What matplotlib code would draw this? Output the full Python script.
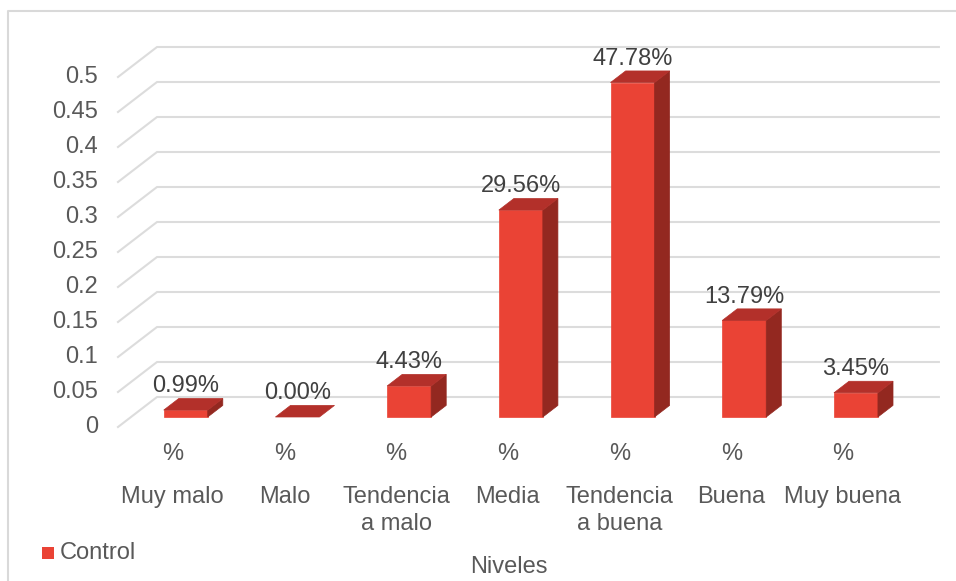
import matplotlib
matplotlib.use("Agg")
import matplotlib.pyplot as plt
from matplotlib.patches import Polygon
from matplotlib.lines import Line2D

# ---- data ----
categories = ["Muy malo", "Malo", "Tendencia\na malo", "Media",
              "Tendencia\na buena", "Buena", "Muy buena"]
values = [0.0099, 0.0000, 0.0443, 0.2956, 0.4778, 0.1379, 0.0345]
value_labels = ["0.99%", "0.00%", "4.43%", "29.56%", "47.78%", "13.79%", "3.45%"]
sub_labels = ["%", "%", "%", "%", "%", "%", "%"]
yticks = [0, 0.05, 0.1, 0.15, 0.2, 0.25, 0.3, 0.35, 0.4, 0.45, 0.5]
ytick_labels = ["0", "0.05", "0.1", "0.15", "0.2", "0.25", "0.3", "0.35", "0.4", "0.45", "0.5"]
series_name = "Control"
axis_title = "Niveles"

plt.rcParams['font.family'] = ['Liberation Sans', 'DejaVu Sans']

W, H = 956, 581
fig = plt.figure(figsize=(W / 100, H / 100), dpi=100)
ax = fig.add_axes([0, 0, 1, 1])
ax.set_axis_off()

CAT_PX = 111.7      # pixels per category
VAL_PX = 700.0      # pixels per value unit
X0_PX = 118.0       # front-left floor corner, px from left
Y0_PX = 427.0       # front floor value 0, px from top
ax.set_xlim(-X0_PX / CAT_PX, (W - X0_PX) / CAT_PX)
ax.set_ylim(-(H - Y0_PX) / VAL_PX, Y0_PX / VAL_PX)

# depth vector (full floor depth), in data units
DX = 39.0 / CAT_PX
DY = 30.0 / VAL_PX
d0, d1 = 1 / 3, 0.72          # bar front/back depth fractions
bw = 44.0 / CAT_PX            # bar width
n = len(categories)

grid_c = '#dcdcdc'
tick_c = '#595959'
lab_c = '#404040'
front_c = '#EA4335'
top_c = '#B3302A'
side_c = '#932820'
fs = 17

# gridlines with 3D diagonal on the left wall
for v, lab in zip(yticks, ytick_labels):
    ax.add_line(Line2D([0, DX, n + DX], [v, v + DY, v + DY],
                       color=grid_c, lw=1.5, zorder=1))
    ax.text(-20 / CAT_PX, v, lab, ha='right', va='center',
            fontsize=fs, color=tick_c)

# bars
for i, v in enumerate(values):
    cx = i + 0.49
    x0, x1 = cx - bw / 2, cx + bw / 2
    ax_, ay = d0 * DX, d0 * DY
    bx, by = d1 * DX, d1 * DY
    front = [(x0 + ax_, ay), (x1 + ax_, ay), (x1 + ax_, v + ay), (x0 + ax_, v + ay)]
    top = [(x0 + ax_, v + ay), (x1 + ax_, v + ay), (x1 + bx, v + by), (x0 + bx, v + by)]
    side = [(x1 + ax_, ay), (x1 + bx, by), (x1 + bx, v + by), (x1 + ax_, v + ay)]
    if v > 0:
        ax.add_patch(Polygon(front, closed=True, fc=front_c, ec=front_c, lw=0.5, zorder=3))
        ax.add_patch(Polygon(side, closed=True, fc=side_c, ec=side_c, lw=0.5, zorder=3))
    ax.add_patch(Polygon(top, closed=True, fc=top_c, ec=top_c, lw=0.5, zorder=3))
    ax.text(cx + ax_, v + by + 6 / VAL_PX, value_labels[i], ha='center',
            va='baseline', fontsize=fs, color=lab_c, zorder=4)
    # category labels (front plane)
    ax.text(cx, -27 / VAL_PX, sub_labels[i], ha='center', va='center',
            fontsize=fs, color=tick_c)
    for k, line in enumerate(categories[i].split("\n")):
        ax.text(cx, -(70 + 27 * k) / VAL_PX, line, ha='center', va='center',
                fontsize=fs, color=tick_c)

# axis title
ax.text(n / 2, -140 / VAL_PX, axis_title, ha='center', va='center',
        fontsize=fs, color=tick_c)

# legend
ax.scatter([(48 - X0_PX) / CAT_PX], [(Y0_PX - 553) / VAL_PX], marker='s',
           s=75, color=front_c, linewidths=0)
ax.text((60 - X0_PX) / CAT_PX, (Y0_PX - 553) / VAL_PX, series_name,
        ha='left', va='center', fontsize=fs, color=tick_c)

# chart frame (left and top edges visible)
fig.add_artist(Line2D([8 / W, 8 / W, 1], [0, 1 - 11 / H, 1 - 11 / H],
                      transform=fig.transFigure, color='#d9d9d9', lw=1.5))

fig.savefig("out.png", dpi=100)
